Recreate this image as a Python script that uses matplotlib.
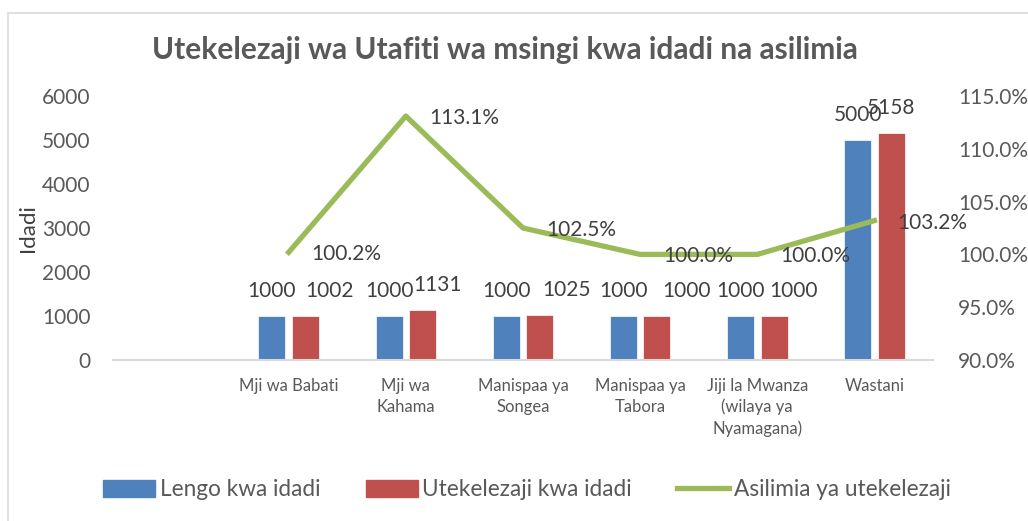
import numpy as np
import matplotlib
matplotlib.use("Agg")
import matplotlib.pyplot as plt
from matplotlib.patches import Patch, Rectangle
from matplotlib.lines import Line2D

# data
categories = ["", "Mji wa Babati", "Mji wa\nKahama", "Manispaa ya\nSongea",
              "Manispaa ya\nTabora", "Jiji la Mwanza\n(wilaya ya\nNyamagana)", "Wastani"]
lengo = [np.nan, 1000, 1000, 1000, 1000, 1000, 5000]
utekelezaji = [np.nan, 1002, 1131, 1025, 1000, 1000, 5158]
asilimia = [np.nan, 100.2, 113.1, 102.5, 100.0, 100.0, 103.2]
# sideways nudge (points) of the red bar labels, as placed in the original
red_label_shift = [0, 17, 11, 19, 21, 14, 0]

plt.rcParams['font.family'] = ['Lato', 'DejaVu Sans']
blue = '#4F81BD'
red = '#C0504D'
green = '#9BBB59'
grey = '#595959'
dark = '#404040'

fig = plt.figure(figsize=(10.28, 5.21), dpi=100)
fig.patches.append(Rectangle((8 / 1028, -0.05), 1.1, 1 - 13 / 521 + 0.05,
                             transform=fig.transFigure, fill=False,
                             edgecolor='#d9d9d9', lw=1.2))

ax = fig.add_axes([113 / 1028, (521 - 360) / 521, 820 / 1028, 264 / 521])
x = np.arange(len(categories))
w = 0.23
off = 0.143
b1 = ax.bar(x - off, lengo, w, color=blue, edgecolor='white', lw=0.5)
b2 = ax.bar(x + off, utekelezaji, w, color=red, edgecolor='white', lw=0.5)

ax.set_xlim(-0.5, len(categories) - 0.5)
ax.set_ylim(0, 6000)
ax.set_yticks(range(0, 6001, 1000))
ax.set_xticks(x)
ax.set_xticklabels(categories, fontsize=12, color=grey, linespacing=1.35)
ax.tick_params(axis='x', length=0, pad=13)
ax.tick_params(axis='y', length=0, pad=16, labelsize=15, labelcolor=grey)
for s in ['top', 'right', 'left']:
    ax.spines[s].set_visible(False)
ax.spines['bottom'].set_color('#d9d9d9')
ax.spines['bottom'].set_linewidth(1.5)
ax.set_ylabel('Idadi', fontsize=16, color=dark)
ax.yaxis.set_label_coords(-0.091, 0.5)

for i in range(len(categories)):
    if not np.isnan(lengo[i]):
        ax.annotate(f"{lengo[i]:.0f}", (x[i] - off, lengo[i]), xytext=(0, 13.5),
                    textcoords='offset points', ha='center', va='baseline',
                    fontsize=15, color=dark)
    if not np.isnan(utekelezaji[i]):
        ax.annotate(f"{utekelezaji[i]:.0f}", (x[i] + off, utekelezaji[i]),
                    xytext=(red_label_shift[i], 13.5), textcoords='offset points',
                    ha='center', va='baseline', fontsize=15, color=dark)

ax2 = ax.twinx()
ax2.plot(x, asilimia, color=green, lw=3.8, solid_joinstyle='round')
ax2.set_ylim(90, 115)
ax2.set_yticks(np.arange(90, 115.1, 5))
ax2.set_yticklabels([f"{t:.1f}%" for t in np.arange(90, 115.1, 5)])
ax2.tick_params(axis='y', length=0, pad=18, labelsize=15, labelcolor=grey)
for s in ax2.spines.values():
    s.set_visible(False)
for i in range(len(categories)):
    if not np.isnan(asilimia[i]):
        ax2.annotate(f"{asilimia[i]:.1f}%", (x[i], asilimia[i]), xytext=(16.5, -1.5),
                     textcoords='offset points', ha='left', va='center',
                     fontsize=15, color=dark)

fig.text(505 / 1028, 1 - 50 / 521, 'Utekelezaji wa Utafiti wa msingi kwa idadi na asilimia',
         ha='center', va='center', fontsize=21.5, fontweight='bold', color=grey)

handles = [Patch(color=blue), Patch(color=red), Line2D([], [], color=green, lw=3.8)]
labels = ['Lengo kwa idadi', 'Utekelezaji kwa idadi', 'Asilimia ya utekelezaji']
leg = fig.legend(handles, labels, loc='center', bbox_to_anchor=(527 / 1028, 1 - 490 / 521),
                 ncol=3, frameon=False, fontsize=16.3, handlelength=2.3, handleheight=0.75,
                 handletextpad=0.2, columnspacing=2.0)
for t in leg.get_texts():
    t.set_color(grey)

fig.savefig('out.png', dpi=100)
